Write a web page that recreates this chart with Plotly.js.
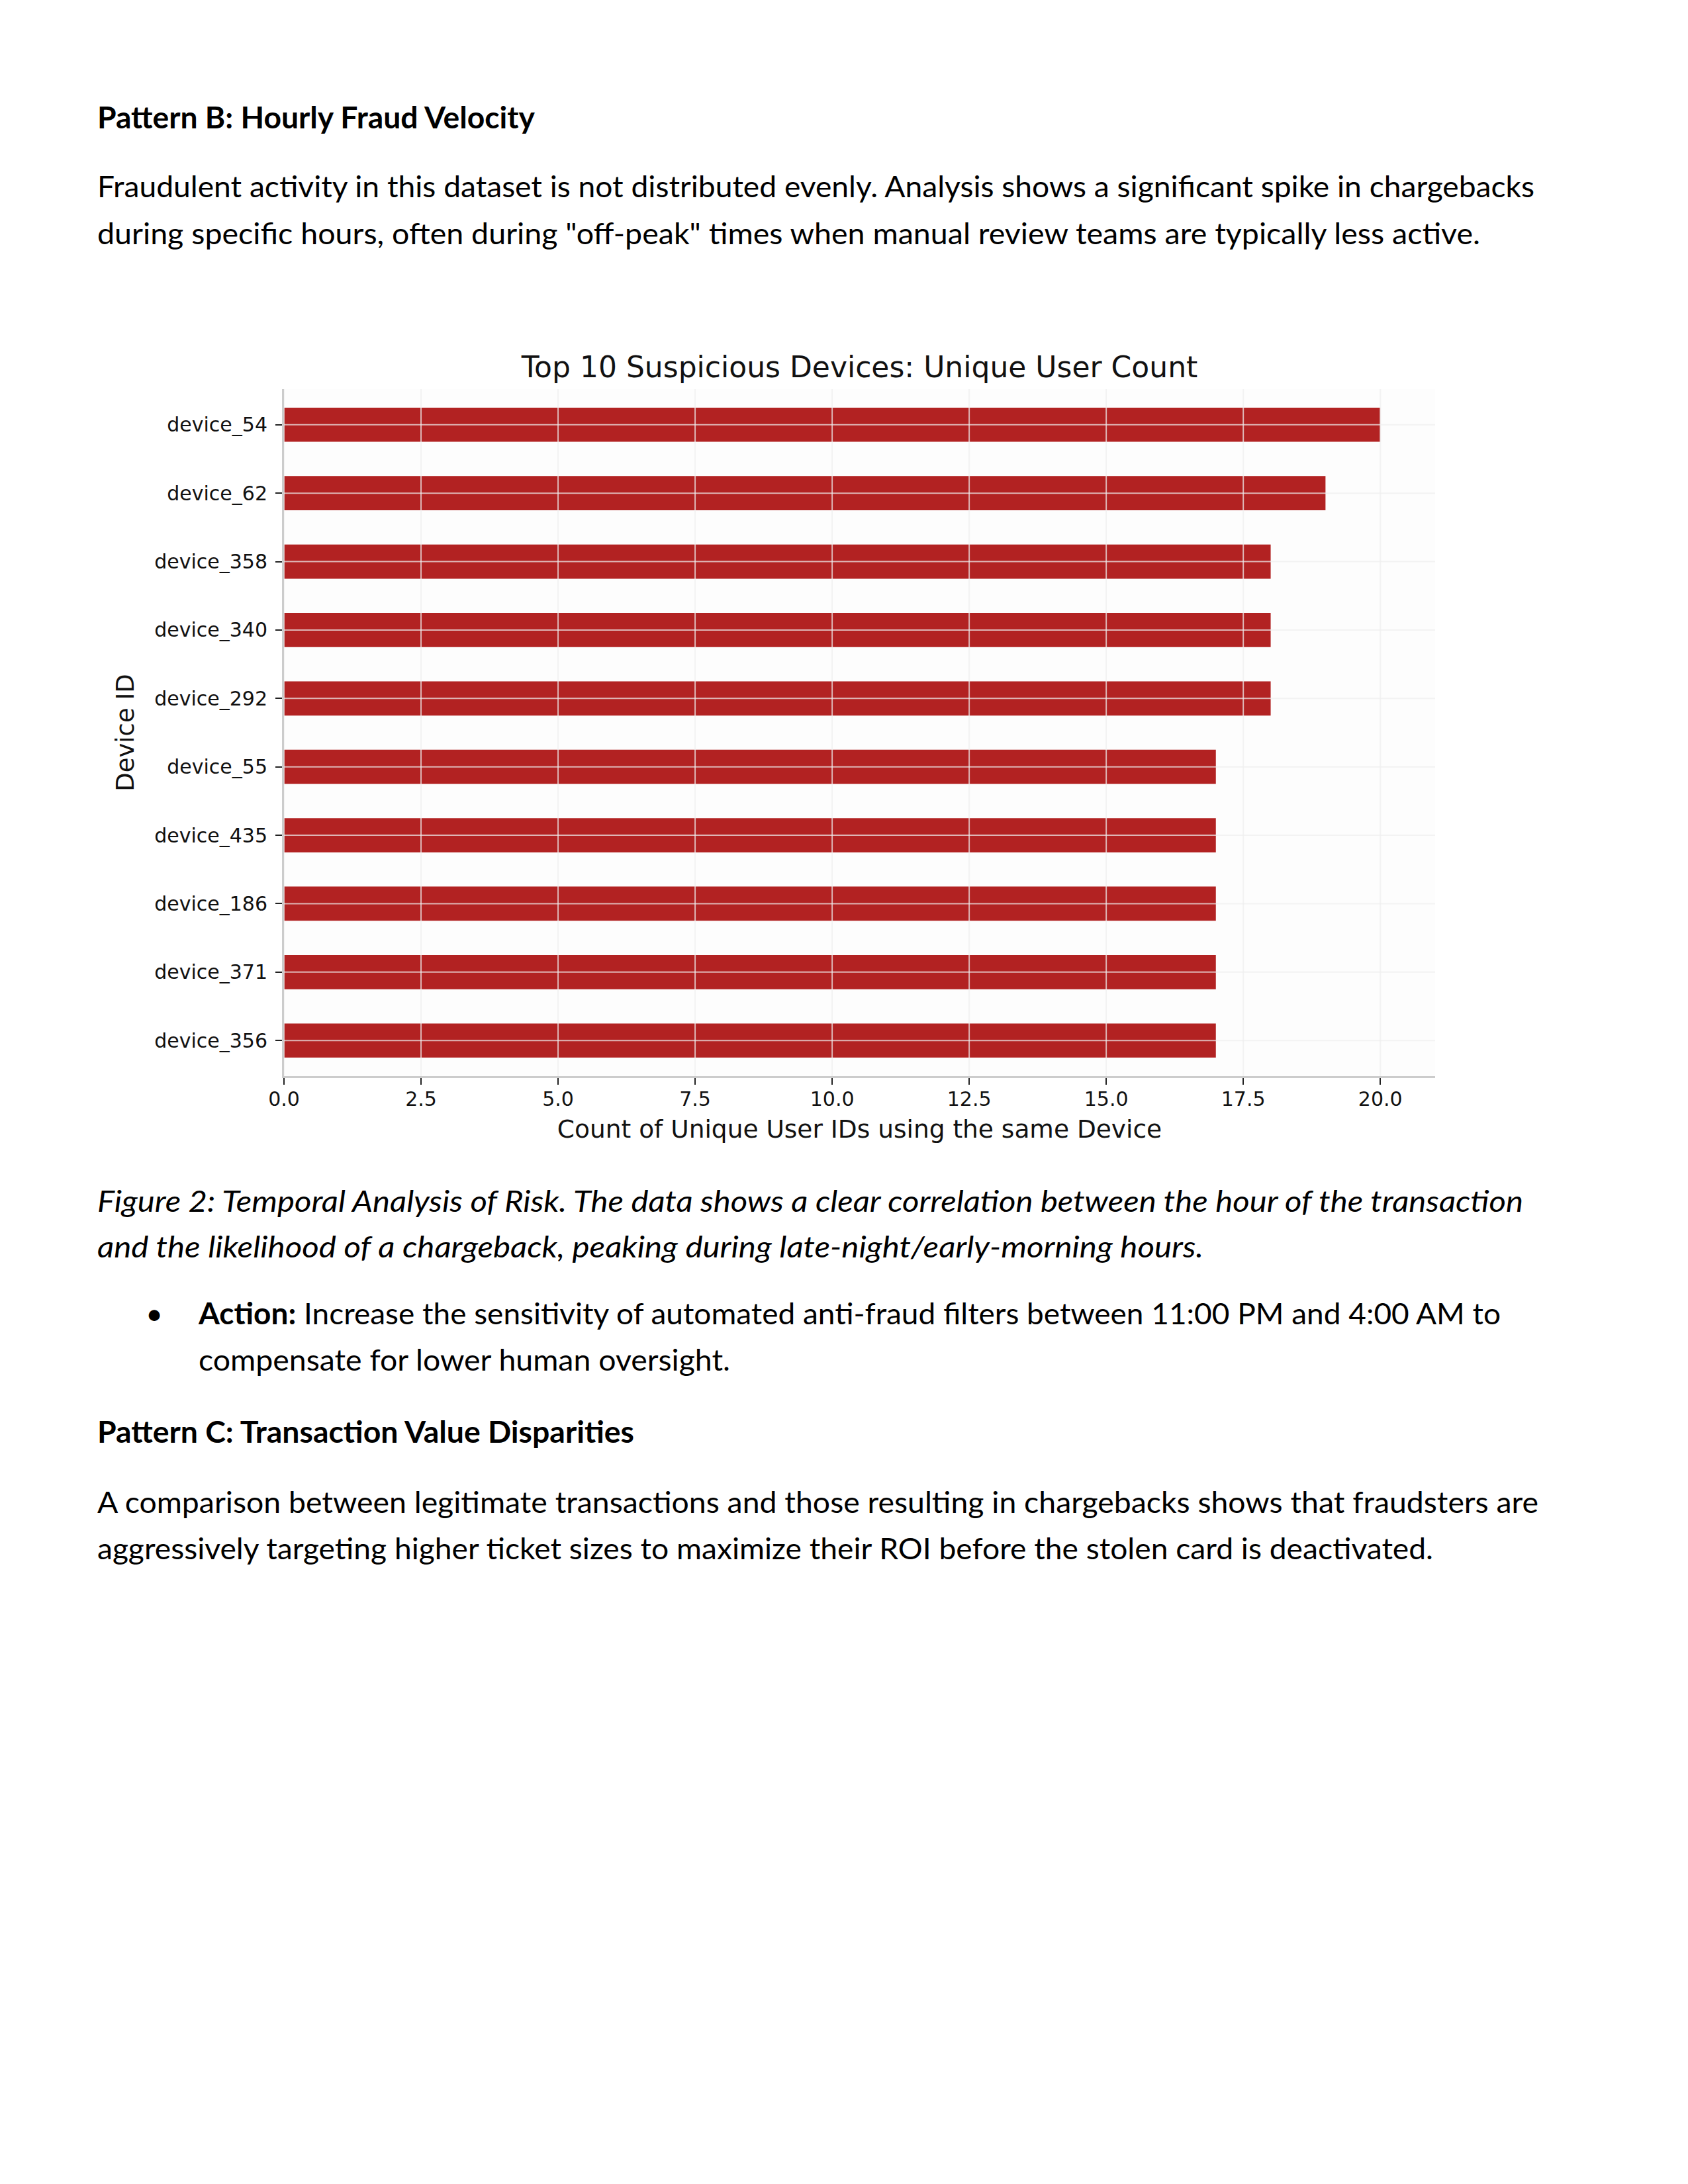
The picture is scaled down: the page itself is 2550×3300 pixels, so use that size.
<!DOCTYPE html>
<html>
<head>
<meta charset="utf-8">
<script src="https://cdn.plot.ly/plotly-3.0.1.min.js"></script>
<style>
  html, body { margin: 0; padding: 0; background: #ffffff; }
  #page { position: relative; width: 2550px; height: 3300px; overflow: hidden; background: #ffffff; }
  #doc { position: absolute; left: 0; top: 0; }
  #chart { position: absolute; left: 0; top: 480px; width: 2550px; height: 1300px; }
  .body { font-family: Lato, "Open Sans", sans-serif; font-size: 45px; fill: #000; }
</style>
</head>
<body>
<div id="page">
  <svg id="doc" width="2550" height="3300" xmlns="http://www.w3.org/2000/svg"></svg>
  <div id="chart"></div>
</div>
<script>
// ---- chart data ----
const devices = ["device_54", "device_62", "device_358", "device_340", "device_292",
                 "device_55", "device_435", "device_186", "device_371", "device_356"];
const uniqueUsers = [20, 19, 18, 18, 18, 17, 17, 17, 17, 17];
const xTickVals = [0, 2.5, 5, 7.5, 10, 12.5, 15, 17.5, 20];
const xTickText = ["0.0", "2.5", "5.0", "7.5", "10.0", "12.5", "15.0", "17.5", "20.0"];

const chartTitle = "Top 10 Suspicious Devices: Unique User Count";
const xTitle = "Count of Unique User IDs using the same Device";
const yTitle = "Device ID";

// ---- document text ----
const docLines = [
  { parts: [["Pattern B: Hourly Fraud Velocity", "bold", ""]], x: 147, y: 194, w: 661 },
  { parts: [["Fraudulent activity in this dataset is not distributed evenly. Analysis shows a significant spike in chargebacks", "normal", ""]], x: 147, y: 298, w: 2171 },
  { parts: [["during specific hours, often during \"off-peak\" times when manual review teams are typically less active.", "normal", ""]], x: 147, y: 369, w: 2089 },
  { parts: [["Figure 2: Temporal Analysis of Risk. The data shows a clear correlation between the hour of the transaction", "normal", "italic"]], x: 147, y: 1831, w: 2154 },
  { parts: [["and the likelihood of a chargeback, peaking during late-night/early-morning hours.", "normal", "italic"]], x: 147, y: 1900, w: 1671 },
  { parts: [["\u2022", "normal", ""]], x: 220, y: 2001, w: 0 },
  { parts: [["Action:", "bold", ""], [" Increase the sensitivity of automated anti-fraud filters between 11:00 PM and 4:00 AM to", "normal", ""]], x: 300, y: 2001, w: 1967 },
  { parts: [["compensate for lower human oversight.", "normal", ""]], x: 300, y: 2071, w: 803 },
  { parts: [["Pattern C: Transaction Value Disparities", "bold", ""]], x: 147, y: 2180, w: 811 },
  { parts: [["A comparison between legitimate transactions and those resulting in chargebacks shows that fraudsters are", "normal", ""]], x: 147, y: 2286, w: 2177 },
  { parts: [["aggressively targeting higher ticket sizes to maximize their ROI before the stolen card is deactivated.", "normal", ""]], x: 147, y: 2356, w: 2018 }
];

const NS = "http://www.w3.org/2000/svg";
const svg = document.getElementById("doc");
docLines.forEach(function (ln) {
  const t = document.createElementNS(NS, "text");
  t.setAttribute("x", ln.x);
  t.setAttribute("y", ln.y);
  t.setAttribute("class", "body");
  if (ln.w > 0) {
    t.setAttribute("textLength", ln.w);
    t.setAttribute("lengthAdjust", "spacingAndGlyphs");
  }
  ln.parts.forEach(function (p) {
    const s = document.createElementNS(NS, "tspan");
    s.textContent = p[0];
    s.setAttribute("font-weight", p[1]);
    if (p[2]) s.setAttribute("font-style", p[2]);
    s.style.whiteSpace = "pre";
    t.appendChild(s);
  });
  svg.appendChild(t);
});

// ---- chart ----
const gridColor = "rgba(238,238,238,0.72)";
const shapes = [];
xTickVals.forEach(function (v) {
  shapes.push({ type: "line", layer: "above", xref: "x", yref: "paper", x0: v, x1: v, y0: 0, y1: 1,
                line: { color: gridColor, width: 2 } });
});
devices.forEach(function (d) {
  shapes.push({ type: "line", layer: "above", xref: "paper", yref: "y", x0: 0, x1: 1, y0: d, y1: d,
                line: { color: gridColor, width: 2 } });
});

const trace = {
  type: "bar",
  orientation: "h",
  x: uniqueUsers,
  y: devices,
  marker: { color: "#b22222", line: { width: 0 } },
  hoverinfo: "x+y"
};

const layout = {
  width: 2550,
  height: 1300,
  margin: { l: 429, r: 382, t: 108, b: 154, pad: 0 },
  paper_bgcolor: "#ffffff",
  plot_bgcolor: "#fdfdfd",
  font: { family: "DejaVu Sans", color: "#111111" },
  showlegend: false,
  bargap: 0.5,
  title: {
    text: chartTitle,
    font: { family: "DejaVu Sans", size: 44, color: "#111111" },
    x: 0.5, xref: "paper", xanchor: "center",
    y: 1, yref: "paper", yanchor: "bottom",
    pad: { b: 18 }
  },
  xaxis: {
    range: [0, 21],
    tickmode: "array",
    tickvals: xTickVals,
    ticktext: xTickText,
    ticks: "outside", ticklen: 10, tickwidth: 2, tickcolor: "#222222",
    tickfont: { family: "DejaVu Sans", size: 30, color: "#111111" },
    ticklabelstandoff: -4,
    showgrid: false, zeroline: false,
    showline: true, linecolor: "#cccccc", linewidth: 3,
    title: { text: xTitle, font: { family: "DejaVu Sans", size: 37.5, color: "#111111" }, standoff: 16 },
    fixedrange: true
  },
  yaxis: {
    type: "category",
    categoryorder: "array",
    categoryarray: devices,
    range: [9.52, -0.52],
    ticks: "outside", ticklen: 10, tickwidth: 2, tickcolor: "#222222",
    tickfont: { family: "DejaVu Sans", size: 30, color: "#111111" },
    ticklabelstandoff: 6,
    showgrid: false, zeroline: false,
    showline: true, linecolor: "#cccccc", linewidth: 3,
    title: { text: yTitle, font: { family: "DejaVu Sans", size: 37, color: "#111111" }, standoff: 20 },
    fixedrange: true
  },
  shapes: shapes
};

Plotly.newPlot("chart", [trace], layout, { displayModeBar: false, staticPlot: true });
</script>
</body>
</html>
